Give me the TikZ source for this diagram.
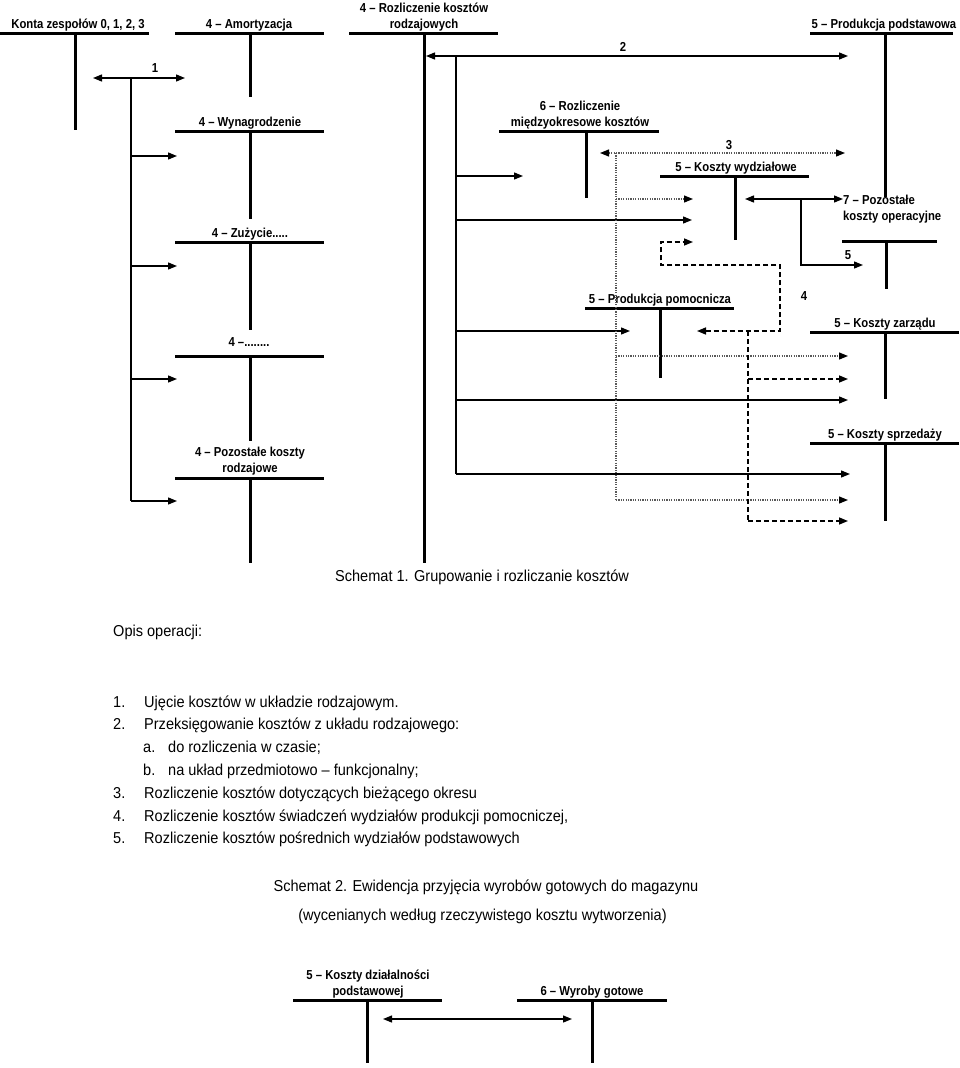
\documentclass[tikz,border=0pt]{standalone}
\usepackage{fontspec}
\setmainfont{Liberation Sans}[FakeStretch=0.92]
\newfontfamily\kontofont{Liberation Sans}[FakeStretch=0.87]
\usepackage{tikz}
\usetikzlibrary{arrows.meta}
\tikzset{
	kontobar/.style={line width=3pt},
	kontolab/.style={font=\kontofont\bfseries\fontsize{13}{16}\selectfont, align=center, inner sep=0pt, text depth=0pt, anchor=south},
	numlab/.style={font=\kontofont\bfseries\fontsize{13}{16}\selectfont, inner sep=0pt},
	conn/.style={line width=1.3pt},
	dotconn/.style={line width=1.2pt, black!65, dash pattern=on 1.2pt off 1.2pt},
	dashconn/.style={line width=1.5pt, dash pattern=on 5pt off 3pt},
	txt/.style={font=\fontsize{15.8}{19}\selectfont, inner sep=0pt, anchor=base west}
}
\begin{document}
\begin{tikzpicture}[x=1pt, y=-1pt, >={Triangle[length=9pt,width=7pt,color=black]}]
			\useasboundingbox (0,0) rectangle (960,1068);
			% konta
			\draw[kontobar] (0,33) -- (149,33);   \draw[kontobar] (75,33) -- (75,130);
			\node[kontolab] (kon) at (78,29) {Konta zespołów 0, 1, 2, 3};
			\draw[kontobar] (175,33) -- (324,33); \draw[kontobar] (250,33) -- (250,97);
			\node[kontolab] (amo) at (249,29) {4 – Amortyzacja};
			\draw[kontobar] (349,33) -- (498,33); \draw[kontobar] (424,33) -- (424,563);
			\node[kontolab] (rkr) at (424,29) {4 – Rozliczenie kosztów\\rodzajowych};
			\draw[kontobar] (810,33) -- (953,33); \draw[kontobar] (885,33) -- (885,197);
			\node[kontolab] (ppd) at (884,29) {5 – Produkcja podstawowa};
			\draw[kontobar] (175,131) -- (324,131); \draw[kontobar] (250,131) -- (250,219);
			\node[kontolab] (wyn) at (250,127) {4 – Wynagrodzenie};
			\draw[kontobar] (499,131) -- (659,131); \draw[kontobar] (586,131) -- (586,198);
			\node[kontolab] (rmk) at (580,127) {6 – Rozliczenie\\międzyokresowe kosztów};
			\draw[kontobar] (660,176) -- (809,176); \draw[kontobar] (735,176) -- (735,240);
			\node[kontolab] (kwy) at (736,172) {5 – Koszty wydziałowe};
			\draw[kontobar] (842,241) -- (937,241); \draw[kontobar] (886,241) -- (886,289);
			\node[kontolab, anchor=south west, align=left] (pko) at (843,221) {7 – Pozostałe\\koszty operacyjne};
			\draw[kontobar] (175,242) -- (324,242); \draw[kontobar] (250,242) -- (250,330);
			\node[kontolab] (zuz) at (250,238) {4 – Zużycie.....};
			\draw[kontobar] (585,308) -- (734,308); \draw[kontobar] (660,308) -- (660,378);
			\node[kontolab] (ppm) at (660,304) {5 – Produkcja pomocnicza};
			\draw[kontobar] (810,332) -- (959,332); \draw[kontobar] (885,332) -- (885,399);
			\node[kontolab] (kza) at (885,328) {5 – Koszty zarządu};
			\draw[kontobar] (175,356) -- (324,356); \draw[kontobar] (250,356) -- (250,441);
			\node[kontolab] (inne) at (249,347) {4 –........};
			\draw[kontobar] (810,443) -- (959,443); \draw[kontobar] (885,443) -- (885,521);
			\node[kontolab] (ksp) at (885,439) {5 – Koszty sprzedaży};
			\draw[kontobar] (175,478) -- (324,478); \draw[kontobar] (250,478) -- (250,563);
			\node[kontolab] (pkr) at (250,473) {4 – Pozostałe koszty\\rodzajowe};
			
			% operacja 1
			\coordinate (t1) at (131,78); \coordinate (t1b) at (131,501);
			\coordinate (konIn) at (93,78); \coordinate (amoIn) at (185,78);
			\coordinate (wynIn) at (177,156); \coordinate (zuzIn) at (177,266);
			\coordinate (inneIn) at (177,379); \coordinate (pkrIn) at (177,501);
			\draw[conn,<->] (konIn) -- (amoIn);
			\draw[conn] (t1) -- (t1b);
			\draw[conn,->] (wynIn -| t1) -- (wynIn);
			\draw[conn,->] (zuzIn -| t1) -- (zuzIn);
			\draw[conn,->] (inneIn -| t1) -- (inneIn);
			\draw[conn,->] (t1b) -- (pkrIn);
			\node[numlab] (n1) at (155,68) {1};
			
			% operacja 2
			\coordinate (t2) at (456,56); \coordinate (t2b) at (456,474);
			\coordinate (rkrIn) at (426,56); \coordinate (ppdIn) at (848,56);
			\coordinate (rmkIn) at (523,176); \coordinate (kwyIn) at (692,220);
			\coordinate (ppmIn) at (630,331); \coordinate (kzaIn) at (848,400);
			\coordinate (kspIn) at (850,474);
			\draw[conn,<->] (rkrIn) -- (ppdIn);
			\draw[conn] (t2) -- (t2b);
			\draw[conn,->] (rmkIn -| t2) -- (rmkIn);
			\draw[conn,->] (kwyIn -| t2) -- (kwyIn);
			\draw[conn,->] (ppmIn -| t2) -- (ppmIn);
			\draw[conn,->] (kzaIn -| t2) -- (kzaIn);
			\draw[conn,->] (t2b) -- (kspIn);
			\node[numlab] (n2) at (623,47) {2};
			
			% operacja 3
			\coordinate (t3) at (616,153); \coordinate (t3b) at (616,500);
			\coordinate (rmkIn3) at (600,153); \coordinate (ppdIn3) at (845,153);
			\coordinate (kwyIn3) at (693,199); \coordinate (kzaIn3) at (848,356);
			\coordinate (kspIn3) at (848,500);
			\draw[dotconn,<->] (rmkIn3) -- (ppdIn3);
			\draw[dotconn] (t3) -- (t3b);
			\draw[dotconn,->] (kwyIn3 -| t3) -- (kwyIn3);
			\draw[dotconn,->] (kzaIn3 -| t3) -- (kzaIn3);
			\draw[dotconn,->] (t3b) -- (kspIn3);
			\node[numlab] (n3) at (729,145) {3};
			
			% operacja 4
			\coordinate (d4r) at (780,265); \coordinate (d4l) at (661,265);
			\coordinate (kwyIn4) at (693,242); \coordinate (ppmIn4) at (697,331);
			\coordinate (t4) at (748,331); \coordinate (t4b) at (748,521);
			\coordinate (kzaIn4) at (848,379); \coordinate (kspIn4) at (848,521);
			\draw[dashconn,<->] (ppmIn4) -| (d4r) -- (d4l) |- (kwyIn4);
			\draw[dashconn] (t4) -- (t4b);
			\draw[dashconn,->] (kzaIn4 -| t4) -- (kzaIn4);
			\draw[dashconn,->] (t4b) -- (kspIn4);
			\node[numlab] (n4) at (804,296) {4};
			
			% operacja 5
			\coordinate (t5) at (801,199);
			\coordinate (kwyIn5) at (745,199); \coordinate (pkoIn5) at (843,199);
			\coordinate (pkoIn5b) at (863,265);
			\draw[conn,<->] (kwyIn5) -- (pkoIn5);
			\draw[conn,->] (t5) |- (pkoIn5b);
			\node[numlab] (n5) at (848,255) {5};
			
			% opis
			\node[txt] (sch1) at (335,581) {Schemat 1. Grupowanie i rozliczanie kosztów};
			\node[txt] (opis) at (113,636) {Opis operacji:};
			\node[txt] (l1n) at (113,707.5) {1.}; \node[txt] (l1) at (144,707.5) {Ujęcie kosztów w układzie rodzajowym.};
			\node[txt] (l2n) at (113,729.5) {2.}; \node[txt] (l2) at (144,729.5) {Przeksięgowanie kosztów z układu rodzajowego:};
			\node[txt] (lan) at (143,752.5) {a.}; \node[txt] (la) at (168,752.5) {do rozliczenia w czasie;};
			\node[txt] (lbn) at (143,775.5) {b.}; \node[txt] (lb) at (168,775.5) {na układ przedmiotowo – funkcjonalny;};
			\node[txt] (l3n) at (113,798.5) {3.}; \node[txt] (l3) at (144,798.5) {Rozliczenie kosztów dotyczących bieżącego okresu};
			\node[txt] (l4n) at (113,821.5) {4.}; \node[txt] (l4) at (144,821.5) {Rozliczenie kosztów świadczeń wydziałów produkcji pomocniczej,};
			\node[txt] (l5n) at (113,843.5) {5.}; \node[txt] (l5) at (144,843.5) {Rozliczenie kosztów pośrednich wydziałów podstawowych};
			
			% schemat 2
			\node[txt, anchor=base] (sch2) at (486,891) {Schemat 2. Ewidencja przyjęcia wyrobów gotowych do magazynu};
			\node[txt, anchor=base] (sch2b) at (482.5,920) {(wycenianych według rzeczywistego kosztu wytworzenia)};
			\draw[kontobar] (293,1000) -- (442,1000); \draw[kontobar] (367,1000) -- (367,1063);
			\node[kontolab] (kdp) at (368,996) {5 – Koszty działalności\\podstawowej};
			\draw[kontobar] (517,1000) -- (667,1000); \draw[kontobar] (592,1000) -- (592,1063);
			\node[kontolab] (wgo) at (592,996) {6 – Wyroby gotowe};
			\coordinate (kdpIn) at (383,1019); \coordinate (wgoIn) at (572,1019);
			\draw[conn,<->] (kdpIn) -- (wgoIn);
		\end{tikzpicture}
\end{document}
